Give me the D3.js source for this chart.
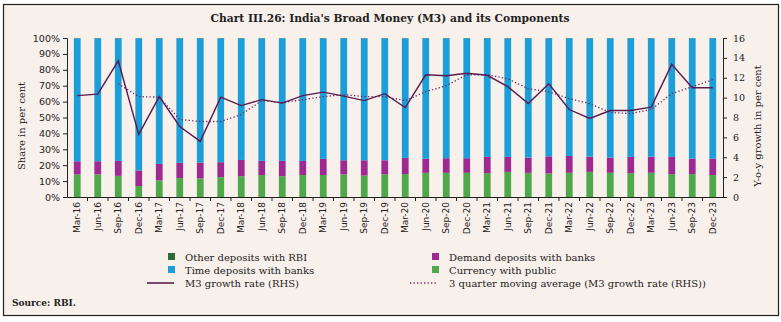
<!DOCTYPE html>
<html>
<head>
<meta charset="utf-8">
<script src="https://cdn.jsdelivr.net/npm/d3@7"></script>
<style>
  body { margin: 0; background: #fff; }
  svg { display: block; }
</style>
</head>
<body>
<div id="chart"></div>
<script>
// quarters
const quarters = ['Mar-16','Jun-16','Sep-16','Dec-16','Mar-17','Jun-17','Sep-17','Dec-17',
  'Mar-18','Jun-18','Sep-18','Dec-18','Mar-19','Jun-19','Sep-19','Dec-19',
  'Mar-20','Jun-20','Sep-20','Dec-20','Mar-21','Jun-21','Sep-21','Dec-21',
  'Mar-22','Jun-22','Sep-22','Dec-22','Mar-23','Jun-23','Sep-23','Dec-23'];

// shares in per cent
const currency = [14.2,14.2,13.3,6.9,10.4,11.9,11.7,12.5,
  13.1,13.8,13.1,13.8,13.8,14.2,13.5,14.2,
  14.4,15.2,15.2,15.2,15.0,15.8,15.2,14.8,
  15.2,15.8,15.2,15.0,15.2,14.4,14.4,13.8];
const demand = [8.3,8.3,9.4,9.8,10.4,9.6,10.0,9.4,
  10.2,8.9,9.6,8.9,10.2,8.9,9.6,8.9,
  10.2,8.8,9.2,9.2,10.2,9.4,9.6,10.8,
  10.6,9.6,9.6,10.2,10.2,10.8,9.8,10.4];
const other = [0.2,0.2,0.2,0.2,0.2,0.2,0.2,0.2,
  0.2,0.2,0.2,0.2,0.2,0.2,0.2,0.2,
  0.2,0.2,0.2,0.2,0.2,0.2,0.2,0.2,
  0.2,0.2,0.2,0.2,0.2,0.2,0.2,0.2];
const time = [77.3,77.3,77.1,83.1,79.0,78.3,78.1,77.9,
  76.5,77.1,77.1,77.1,75.8,76.7,76.7,76.7,
  75.2,75.8,75.4,75.4,74.6,74.6,75.0,74.2,
  74.0,74.4,75.0,74.6,74.4,74.6,75.6,75.6];

// y-o-y growth, RHS
const m3Growth = [10.2,10.35,13.7,6.3,10.1,7.1,5.6,10.05,
  9.2,9.8,9.45,10.2,10.55,10.15,9.7,10.4,
  9.0,12.3,12.2,12.45,12.25,11.1,9.4,11.4,
  8.8,7.9,8.7,8.7,9.05,13.35,11.0,11.0];
const movingAvg = [null,null,11.4,10.1,10.05,7.8,7.6,7.6,
  8.3,9.7,9.5,9.8,10.1,10.3,10.1,10.1,
  9.7,10.6,11.2,12.3,12.3,11.9,10.9,10.6,
  9.9,9.4,8.5,8.4,8.8,10.4,11.1,11.8];

const leftTicks = [0,10,20,30,40,50,60,70,80,90,100];
const rightTicks = [0,2,4,6,8,10,12,14,16];

const width = 781, height = 322;
const margin = { top: 38, right: 58, bottom: 125, left: 67 };
const bg = '#f8f0eb';
const serif = "'DejaVu Serif', 'Liberation Serif', serif";
const sans = "'DejaVu Sans', sans-serif";

const svg = d3.select('#chart').append('svg')
  .attr('width', width)
  .attr('height', height);

svg.append('rect')
  .attr('x', 3.5).attr('y', 4.5)
  .attr('width', 775).attr('height', 311)
  .attr('fill', bg)
  .attr('stroke', '#222')
  .attr('stroke-width', 1.2);

svg.append('text')
  .attr('x', 390).attr('y', 22)
  .attr('text-anchor', 'middle')
  .style('font-family', serif)
  .style('font-weight', 'bold')
  .style('font-size', '10.7px')
  .attr('fill', '#222')
  .text("Chart III.26: India's Broad Money (M3) and its Components");

const plotW = width - margin.left - margin.right;
const plotH = height - margin.top - margin.bottom;

const g = svg.append('g')
  .attr('transform', 'translate(' + margin.left + ',' + margin.top + ')');

const x = d3.scaleBand()
  .domain(quarters)
  .range([0, plotW])
  .paddingInner(0.67)
  .paddingOuter(0.335);

const y = d3.scaleLinear().domain([0, 100]).range([plotH, 0]);
const y2 = d3.scaleLinear().domain([0, 16]).range([plotH, 0]);

const rows = quarters.map((q, i) => ({
  q: q, currency: currency[i], demand: demand[i], time: time[i], other: other[i]
}));

const keys = ['currency', 'demand', 'time', 'other'];
const colors = { currency: '#4fa84a', demand: '#9c2a8f', time: '#1c9fd8', other: '#2e6a36' };

const stack = d3.stack().keys(keys);
g.selectAll('.layer')
  .data(stack(rows))
  .enter().append('g')
  .attr('class', 'layer')
  .attr('fill', d => colors[d.key])
  .selectAll('rect')
  .data(d => d)
  .enter().append('rect')
  .attr('x', d => x(d.data.q))
  .attr('width', x.bandwidth())
  .attr('y', d => y(Math.min(d[1], 100)))
  .attr('height', d => y(d[0]) - y(Math.min(d[1], 100)));

// lines
const cx = q => x(q) + x.bandwidth() / 2;

const line = d3.line()
  .defined(d => d.v != null)
  .x(d => cx(d.q))
  .y(d => y2(d.v));

g.append('path')
  .datum(quarters.map((q, i) => ({ q: q, v: movingAvg[i] })))
  .attr('d', line)
  .attr('fill', 'none')
  .attr('stroke', '#6b2a5e')
  .attr('stroke-width', 1.3)
  .attr('stroke-dasharray', '1.3,2.2');

g.append('path')
  .datum(quarters.map((q, i) => ({ q: q, v: m3Growth[i] })))
  .attr('d', line)
  .attr('fill', 'none')
  .attr('stroke', '#5a1a50')
  .attr('stroke-width', 1.4);

// axes
const leftAxis = g.append('g')
  .call(d3.axisLeft(y).tickValues(leftTicks).tickSize(4).tickFormat(d => d + '%'));
leftAxis.selectAll('text')
  .style('font-family', sans).style('font-size', '9.5px').attr('fill', '#222');

const rightAxis = g.append('g')
  .attr('transform', 'translate(' + plotW + ',0)')
  .call(d3.axisRight(y2).tickValues(rightTicks).tickSize(4).tickPadding(6));
rightAxis.selectAll('text')
  .style('font-family', serif).style('font-size', '9.5px').attr('fill', '#222');

const xAxis = g.append('g')
  .attr('transform', 'translate(0,' + plotH + ')')
  .call(d3.axisBottom(x).tickSize(0).tickPadding(4));
xAxis.selectAll('text')
  .style('font-family', sans).style('font-size', '9px').attr('fill', '#222')
  .attr('transform', 'rotate(-90)')
  .attr('text-anchor', 'end')
  .attr('x', -5)
  .attr('y', 0)
  .attr('dy', '0.35em');

// tick marks between bands
xAxis.selectAll('.sep')
  .data(quarters.slice(1))
  .enter().append('line')
  .attr('class', 'sep')
  .attr('x1', d => x(d) - x.step() * x.paddingInner() / 2)
  .attr('x2', d => x(d) - x.step() * x.paddingInner() / 2)
  .attr('y1', 0).attr('y2', 4)
  .attr('stroke', '#222');

[leftAxis, rightAxis, xAxis].forEach(a => {
  a.selectAll('path, line').attr('stroke', '#222');
});

// axis titles
svg.append('text')
  .attr('transform', 'translate(25,126) rotate(-90)')
  .attr('text-anchor', 'middle')
  .style('font-family', serif).style('font-size', '10px').attr('fill', '#222')
  .text('Share in per cent');

svg.append('text')
  .attr('transform', 'translate(761,126) rotate(-90)')
  .attr('text-anchor', 'middle')
  .style('font-family', serif).style('font-size', '10px').attr('fill', '#222')
  .text('Y-o-y growth in per cent');

// legend
const legendItems = [
  { label: 'Other deposits with RBI', type: 'box', color: colors.other, col: 0, row: 0 },
  { label: 'Demand deposits with banks', type: 'box', color: colors.demand, col: 1, row: 0 },
  { label: 'Time deposits with banks', type: 'box', color: colors.time, col: 0, row: 1 },
  { label: 'Currency with public', type: 'box', color: colors.currency, col: 1, row: 1 },
  { label: 'M3 growth rate (RHS)', type: 'line', color: '#5a1a50', col: 0, row: 2 },
  { label: '3 quarter moving average (M3 growth rate (RHS))', type: 'dot', color: '#6b2a5e', col: 1, row: 2 }
];
const colX = [185, 449];
const rowY = [257, 270, 283];

const legend = svg.selectAll('.legend')
  .data(legendItems)
  .enter().append('g')
  .attr('class', 'legend')
  .attr('transform', d => 'translate(' + colX[d.col] + ',' + rowY[d.row] + ')');

legend.filter(d => d.type === 'box').append('rect')
  .attr('x', -17).attr('y', -4)
  .attr('width', 7).attr('height', 7)
  .attr('fill', d => d.color);

legend.filter(d => d.type !== 'box').append('line')
  .attr('x1', d => d.type === 'line' ? -38 : -39)
  .attr('x2', d => d.type === 'line' ? -11 : -12)
  .attr('y1', 0).attr('y2', 0)
  .attr('stroke', d => d.color)
  .attr('stroke-width', 1.6)
  .attr('stroke-dasharray', d => d.type === 'dot' ? '1.3,2.2' : null);

legend.append('text')
  .attr('x', 0).attr('y', 0).attr('dy', '0.35em')
  .style('font-family', serif).style('font-size', '10px').attr('fill', '#222')
  .text(d => d.label);

svg.append('text')
  .attr('x', 12).attr('y', 306)
  .style('font-family', serif).style('font-size', '9px').style('font-weight', 'bold')
  .attr('fill', '#222')
  .text('Source: RBI.');
</script>
</body>
</html>
